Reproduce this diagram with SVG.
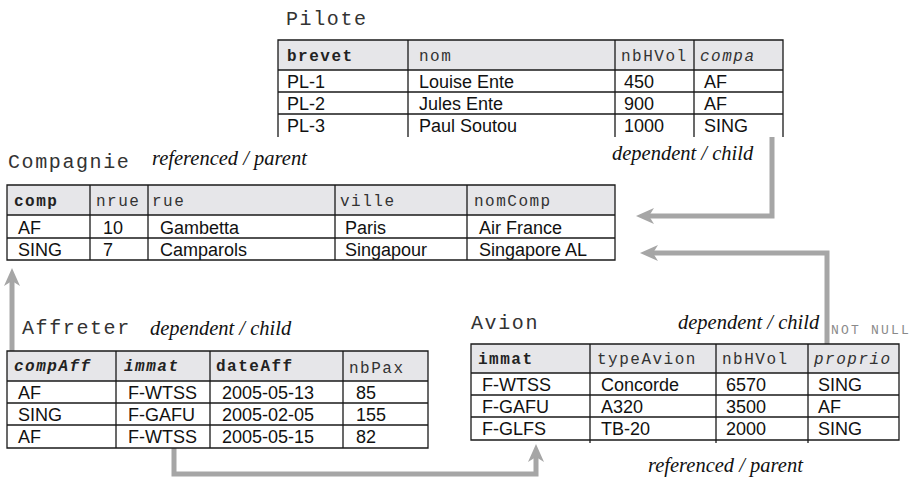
<svg xmlns="http://www.w3.org/2000/svg" width="911" height="479" viewBox="0 0 911 479">
  <style>
    .bg { fill: #ffffff; }
    .hdr { fill: #e6e6e9; stroke: none; }
    .grid { fill: none; stroke: #1a1a1a; stroke-width: 1.3; }
    .title { font-family: "Liberation Mono", monospace; font-size: 20px; letter-spacing: 1.6px; fill: #333; }
    .col { font-family: "Liberation Mono", monospace; font-size: 16px; letter-spacing: 1.5px; fill: #333; }
    .key { font-weight: bold; fill: #222; }
    .fk { font-style: italic; }
    .cell { font-family: "Liberation Sans", Arial, sans-serif; font-size: 18px; fill: #111; }
    .role { font-family: "Liberation Serif", "Times New Roman", serif; font-style: italic; font-size: 20.5px; fill: #111; }
    .note { font-family: "Liberation Mono", monospace; font-size: 13px; letter-spacing: 2.2px; fill: #8a8a8a; }
    .link { fill: none; stroke: #a6a6a6; stroke-width: 5; stroke-linejoin: miter; marker-end: url(#head); }
  </style>
  <defs>
    <marker id="head" viewBox="0 0 18 16" refX="8" refY="8" markerWidth="18" markerHeight="16" markerUnits="userSpaceOnUse" orient="auto">
      <path d="M0,0 L18,8 L0,16 L5,8 z" fill="#a6a6a6"/>
    </marker>
  </defs>
  <rect class="bg" x="0" y="0" width="911" height="479"/>

  <!-- foreign key connectors -->
  <g id="connectors">
    <path class="link" d="M772,137 V216 H646"/>
    <path class="link" d="M827,344 V253 H650"/>
    <path class="link" d="M12,351 V278"/>
    <path class="link" d="M174,448 V474 H536 V454"/>
  </g>

  <!-- Pilote -->
  <g id="pilote">
    <text class="title" x="286" y="25">Pilote</text>
    <rect class="hdr" x="278" y="40" width="505" height="30"/>
    <path class="grid" d="M278,137 V40 H783 V137 M278,70 H783 M278,92 H783 M278,114 H783 M408,40 V137 M615,40 V137 M694,40 V137"/>
    <text class="col key" x="287" y="61">brevet</text>
    <text class="col" x="419" y="61">nom</text>
    <text class="col" x="621" y="61">nbHVol</text>
    <text class="col fk" x="700" y="61">compa</text>
    <text class="cell" x="287" y="88">PL-1</text>
    <text class="cell" x="419" y="88">Louise Ente</text>
    <text class="cell" x="624" y="88">450</text>
    <text class="cell" x="704" y="88">AF</text>
    <text class="cell" x="287" y="110">PL-2</text>
    <text class="cell" x="419" y="110">Jules Ente</text>
    <text class="cell" x="624" y="110">900</text>
    <text class="cell" x="704" y="110">AF</text>
    <text class="cell" x="287" y="132">PL-3</text>
    <text class="cell" x="419" y="132">Paul Soutou</text>
    <text class="cell" x="624" y="132">1000</text>
    <text class="cell" x="704" y="132">SING</text>
    <text class="role" x="612" y="160">dependent / child</text>
  </g>

  <!-- Compagnie -->
  <g id="compagnie">
    <text class="title" x="8" y="168">Compagnie</text>
    <text class="role" x="152" y="165">referenced / parent</text>
    <rect class="hdr" x="7" y="185" width="608" height="30"/>
    <path class="grid" d="M7,185 H615 V260 H7 Z M7,215 H615 M7,238 H615 M90,185 V260 M148,185 V260 M335,185 V260 M467,185 V260"/>
    <text class="col key" x="14" y="206">comp</text>
    <text class="col" x="96" y="206">nrue</text>
    <text class="col" x="152" y="206">rue</text>
    <text class="col" x="340" y="206">ville</text>
    <text class="col" x="474" y="206">nomComp</text>
    <text class="cell" x="18" y="234">AF</text>
    <text class="cell" x="103" y="234">10</text>
    <text class="cell" x="160" y="234">Gambetta</text>
    <text class="cell" x="345" y="234">Paris</text>
    <text class="cell" x="479" y="234">Air France</text>
    <text class="cell" x="18" y="256">SING</text>
    <text class="cell" x="103" y="256">7</text>
    <text class="cell" x="160" y="256">Camparols</text>
    <text class="cell" x="345" y="256">Singapour</text>
    <text class="cell" x="479" y="256">Singapore AL</text>
  </g>

  <!-- Affreter -->
  <g id="affreter">
    <text class="title" x="22" y="334">Affreter</text>
    <text class="role" x="150" y="335">dependent / child</text>
    <rect class="hdr" x="7" y="351" width="421" height="30"/>
    <path class="grid" d="M7,351 H428 V448 H7 Z M7,381 H428 M7,403 H428 M7,425 H428 M116,351 V448 M210,351 V448 M343,351 V448"/>
    <text class="col key fk" x="14" y="371">compAff</text>
    <text class="col key fk" x="124" y="371">immat</text>
    <text class="col key" x="216" y="371">dateAff</text>
    <text class="col" x="349" y="373">nbPax</text>
    <text class="cell" x="18" y="399">AF</text>
    <text class="cell" x="128" y="399">F-WTSS</text>
    <text class="cell" x="222" y="399">2005-05-13</text>
    <text class="cell" x="356" y="399">85</text>
    <text class="cell" x="18" y="421">SING</text>
    <text class="cell" x="128" y="421">F-GAFU</text>
    <text class="cell" x="222" y="421">2005-02-05</text>
    <text class="cell" x="356" y="421">155</text>
    <text class="cell" x="18" y="443">AF</text>
    <text class="cell" x="128" y="443">F-WTSS</text>
    <text class="cell" x="222" y="443">2005-05-15</text>
    <text class="cell" x="356" y="443">82</text>
  </g>

  <!-- Avion -->
  <g id="avion">
    <text class="title" x="471" y="329">Avion</text>
    <text class="role" x="678" y="329">dependent / child</text>
    <text class="note" x="831" y="334">NOT NULL</text>
    <rect class="hdr" x="471" y="344" width="428" height="29"/>
    <path class="grid" d="M471,344 H899 V440 H471 Z M471,373 H899 M471,395 H899 M471,417 H899 M590,344 V443 M716,344 V443 M808,344 V443"/>
    <text class="col key" x="478" y="364">immat</text>
    <text class="col" x="597" y="364">typeAvion</text>
    <text class="col" x="722" y="364">nbHVol</text>
    <text class="col fk" x="814" y="364">proprio</text>
    <text class="cell" x="482" y="391">F-WTSS</text>
    <text class="cell" x="601" y="391">Concorde</text>
    <text class="cell" x="726" y="391">6570</text>
    <text class="cell" x="818" y="391">SING</text>
    <text class="cell" x="482" y="413">F-GAFU</text>
    <text class="cell" x="601" y="413">A320</text>
    <text class="cell" x="726" y="413">3500</text>
    <text class="cell" x="818" y="413">AF</text>
    <text class="cell" x="482" y="435">F-GLFS</text>
    <text class="cell" x="601" y="435">TB-20</text>
    <text class="cell" x="726" y="435">2000</text>
    <text class="cell" x="818" y="435">SING</text>
    <text class="role" x="648" y="472">referenced / parent</text>
  </g>
</svg>
